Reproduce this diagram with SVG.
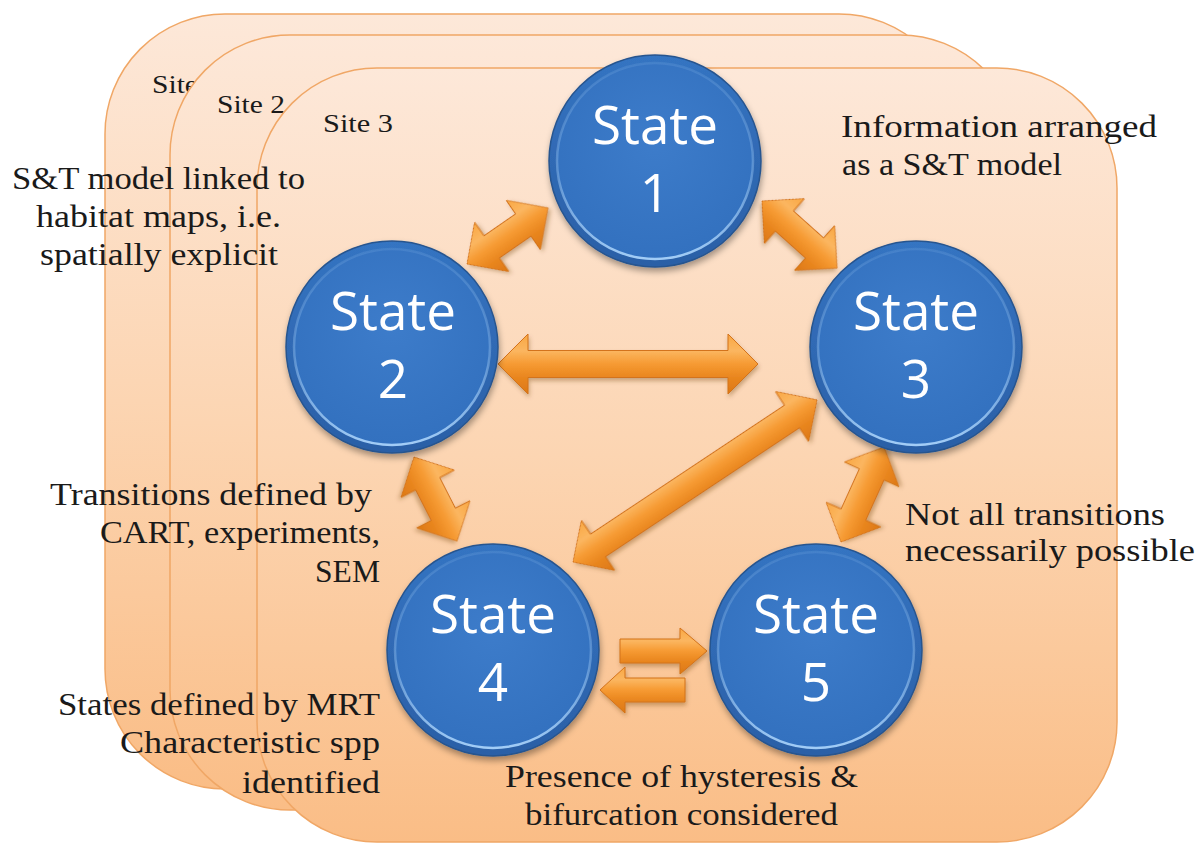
<svg xmlns="http://www.w3.org/2000/svg" width="1203" height="843" viewBox="0 0 1203 843">
  <defs>
    <linearGradient id="panelFill" x1="0" y1="0" x2="0" y2="1">
      <stop offset="0" stop-color="#fde8d9"/>
      <stop offset="0.5" stop-color="#fcd5b2"/>
      <stop offset="1" stop-color="#fabd86"/>
    </linearGradient>
    <radialGradient id="faceFill" cx="0.5" cy="0.4" r="0.6">
      <stop offset="0" stop-color="#3d7cca"/>
      <stop offset="1" stop-color="#3371bf"/>
    </radialGradient>
    <linearGradient id="rimFill" x1="0" y1="0" x2="0" y2="1">
      <stop offset="0" stop-color="#3474c2"/>
      <stop offset="1" stop-color="#2b5fa6"/>
    </linearGradient>
    <linearGradient id="rimLight" x1="0" y1="0" x2="0" y2="1">
      <stop offset="0" stop-color="#9cc8f4" stop-opacity="0.15"/>
      <stop offset="0.55" stop-color="#9cc8f4" stop-opacity="0.4"/>
      <stop offset="1" stop-color="#a8d2fa" stop-opacity="0.95"/>
    </linearGradient>
    <linearGradient id="arrowFill" x1="0" y1="0" x2="0" y2="1">
      <stop offset="0" stop-color="#f9a743"/>
      <stop offset="0.28" stop-color="#fbb660"/>
      <stop offset="0.5" stop-color="#f69a32"/>
      <stop offset="0.72" stop-color="#e9861f"/>
      <stop offset="1" stop-color="#dc7816"/>
    </linearGradient>
    <filter id="circleShadow" x="-20%" y="-20%" width="140%" height="140%">
      <feDropShadow dx="1" dy="4" stdDeviation="3" flood-color="#000" flood-opacity="0.35"/>
    </filter>
    <filter id="arrowShadow" x="-20%" y="-40%" width="140%" height="180%">
      <feDropShadow dx="1" dy="3" stdDeviation="2" flood-color="#6b3a10" flood-opacity="0.35"/>
    </filter>
    <style>
      .panel { fill: url(#panelFill); stroke: #f0a766; stroke-width: 1.5; }
      .rim { fill: url(#rimFill); stroke: #28558f; stroke-width: 1.5; filter: url(#circleShadow); }
      .face { fill: url(#faceFill); stroke: url(#rimLight); stroke-width: 2.5; }
      .stateText { font-family: "Open Sans", "Noto Sans", sans-serif; font-size: 53px; fill: #ffffff; text-anchor: middle; }
      .note { font-family: "Liberation Serif", "DejaVu Serif", serif; font-size: 31px; fill: #1a1a1a; }
      .site { font-family: "Liberation Serif", "DejaVu Serif", serif; font-size: 25px; fill: #1a1a1a; }
      .arrow { fill: url(#arrowFill); stroke: #d3731a; stroke-width: 1; stroke-linejoin: miter; filter: url(#arrowShadow); }
    </style>
  </defs>

  <!-- stacked site panels -->
  <g id="site1">
    <rect class="panel" x="105" y="14" width="854" height="775" rx="120" ry="120"/>
    <text class="site" x="152" y="93" textLength="46" lengthAdjust="spacingAndGlyphs">Site</text>
  </g>
  <g id="site2">
    <rect class="panel" x="170" y="35" width="850" height="775" rx="120" ry="120"/>
    <text class="site" x="217" y="113" textLength="68" lengthAdjust="spacingAndGlyphs">Site 2</text>
  </g>
  <g id="site3">
    <rect class="panel" x="257" y="68" width="860" height="774" rx="120" ry="120"/>
    <text class="site" x="323" y="132" textLength="70" lengthAdjust="spacingAndGlyphs">Site 3</text>
  </g>

  <!-- transition arrows -->
  <g id="connectors">
    <path id="arrow-2-1" class="arrow" transform="translate(467,264) rotate(-34.7)" d="M0,0 L30,-30 L30,-13.5 L68.5,-13.5 L68.5,-30 L98.5,0 L68.5,30 L68.5,13.5 L30,13.5 L30,30 Z"/>
    <path id="arrow-1-3" class="arrow" transform="translate(762,201) rotate(41.8)" d="M0,0 L30,-30 L30,-13.5 L70.6,-13.5 L70.6,-30 L100.6,0 L70.6,30 L70.6,13.5 L30,13.5 L30,30 Z"/>
    <path id="arrow-2-3" class="arrow" transform="translate(498,364)" d="M0,0 L30,-30 L30,-13.5 L230,-13.5 L230,-30 L260,0 L230,30 L230,13.5 L30,13.5 L30,30 Z"/>
    <path id="arrow-4-3" class="arrow" transform="translate(573,562) rotate(-33.6)" d="M0,0 L30,-30 L30,-13.5 L263,-13.5 L263,-30 L293,0 L263,30 L263,13.5 L30,13.5 L30,30 Z"/>
    <path id="arrow-2-4" class="arrow" transform="translate(414,457) rotate(62.9)" d="M0,0 L30,-30 L30,-13.5 L64.4,-13.5 L64.4,-30 L94.4,0 L64.4,30 L64.4,13.5 L30,13.5 L30,30 Z"/>
    <path id="arrow-5-3" class="arrow" transform="translate(841,542) rotate(-65.6)" d="M0,0 L30,-30 L30,-13.5 L74.3,-13.5 L74.3,-30 L104.3,0 L74.3,30 L74.3,13.5 L30,13.5 L30,30 Z"/>
    <path id="arrow-4-5" class="arrow" d="M620,639 L680,639 L680,628 L707,651 L680,674 L680,663 L620,663 Z"/>
    <path id="arrow-5-4" class="arrow" d="M685,678 L625,678 L625,667 L600,690 L625,713 L625,702 L685,702 Z"/>
  </g>

  <!-- states -->
  <g id="state1">
    <circle class="rim" cx="655" cy="161" r="106"/>
    <circle class="face" cx="655" cy="161" r="98"/>
    <text class="stateText" x="655" y="144">State</text>
    <text class="stateText" x="655" y="212">1</text>
  </g>
  <g id="state2">
    <circle class="rim" cx="392" cy="347" r="106"/>
    <circle class="face" cx="392" cy="347" r="98"/>
    <text class="stateText" x="393" y="330">State</text>
    <text class="stateText" x="393" y="398">2</text>
  </g>
  <g id="state3">
    <circle class="rim" cx="916" cy="347" r="106"/>
    <circle class="face" cx="916" cy="347" r="98"/>
    <text class="stateText" x="916" y="330">State</text>
    <text class="stateText" x="916" y="398">3</text>
  </g>
  <g id="state4">
    <circle class="rim" cx="493" cy="650" r="106"/>
    <circle class="face" cx="493" cy="650" r="98"/>
    <text class="stateText" x="493" y="633">State</text>
    <text class="stateText" x="493" y="701">4</text>
  </g>
  <g id="state5">
    <circle class="rim" cx="816" cy="650" r="106"/>
    <circle class="face" cx="816" cy="650" r="98"/>
    <text class="stateText" x="816" y="633">State</text>
    <text class="stateText" x="816" y="701">5</text>
  </g>

  <!-- annotations -->
  <g id="note-spatial">
    <text class="note" x="12" y="189" textLength="293" lengthAdjust="spacingAndGlyphs">S&amp;T model linked to</text>
    <text class="note" x="36" y="227" textLength="245" lengthAdjust="spacingAndGlyphs">habitat maps, i.e.</text>
    <text class="note" x="40" y="265" textLength="238" lengthAdjust="spacingAndGlyphs">spatially explicit</text>
  </g>
  <g id="note-info">
    <text class="note" x="841" y="137" textLength="316" lengthAdjust="spacingAndGlyphs">Information arranged</text>
    <text class="note" x="842" y="175" textLength="220" lengthAdjust="spacingAndGlyphs">as a S&amp;T model</text>
  </g>
  <g id="note-transitions">
    <text class="note" x="50" y="505" textLength="322" lengthAdjust="spacingAndGlyphs">Transitions defined by</text>
    <text class="note" x="100" y="543" textLength="280" lengthAdjust="spacingAndGlyphs">CART, experiments,</text>
    <text class="note" x="315" y="582" textLength="65" lengthAdjust="spacingAndGlyphs">SEM</text>
  </g>
  <g id="note-states">
    <text class="note" x="58" y="715" textLength="322" lengthAdjust="spacingAndGlyphs">States defined by MRT</text>
    <text class="note" x="120" y="753" textLength="260" lengthAdjust="spacingAndGlyphs">Characteristic spp</text>
    <text class="note" x="242" y="793" textLength="138" lengthAdjust="spacingAndGlyphs">identified</text>
  </g>
  <g id="note-possible">
    <text class="note" x="905" y="525" textLength="260" lengthAdjust="spacingAndGlyphs">Not all transitions</text>
    <text class="note" x="905" y="561" textLength="290" lengthAdjust="spacingAndGlyphs">necessarily possible</text>
  </g>
  <g id="note-hysteresis">
    <text class="note" x="505" y="787" textLength="353" lengthAdjust="spacingAndGlyphs">Presence of hysteresis &amp;</text>
    <text class="note" x="525" y="825" textLength="313" lengthAdjust="spacingAndGlyphs">bifurcation considered</text>
  </g>
</svg>
